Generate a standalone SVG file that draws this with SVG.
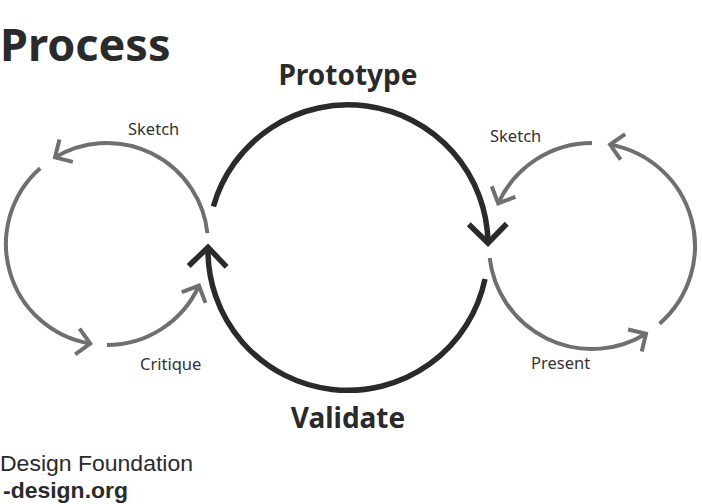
<svg xmlns="http://www.w3.org/2000/svg" width="702" height="504" viewBox="0 0 702 504">
<defs>
<style>
.big{fill:none;stroke:#2a2a2a;stroke-width:5.5}
.small{fill:none;stroke:#6f6f6f;stroke-width:4}
.t{font-family:"Noto Sans","Open Sans","DejaVu Sans",sans-serif;fill:#2a2a2a}
.f{font-family:"Liberation Sans",Arial,sans-serif;fill:#2a2a2a}
.lab{font-size:16.5px;fill:#333}
.head{font-size:28px;font-weight:bold}
</style>
<marker id="ab" markerUnits="userSpaceOnUse" markerWidth="60" markerHeight="60" refX="0" refY="0" orient="auto" overflow="visible" viewBox="-30 -30 60 60">
<path d="M -19 -19 L 0 0 L -19 19" fill="none" stroke="#2a2a2a" stroke-width="5.5"/>
</marker>
<marker id="as" markerUnits="userSpaceOnUse" markerWidth="60" markerHeight="60" refX="0" refY="0" orient="auto" overflow="visible" viewBox="-30 -30 60 60">
<path d="M -13 -13 L 0 0 L -13 13" fill="none" stroke="#6f6f6f" stroke-width="4"/>
</marker>
</defs>
<rect width="702" height="504" fill="#ffffff"/>
<text class="t" x="0" y="61" font-size="45" font-weight="bold">Process</text>
<g id="connectors">
<g id="left-cycle">
<path class="small" d="M 207.4 233.1 A 101 101 0 0 0 55 157.4" marker-end="url(#as)"/>
<path class="small" d="M 40.2 168.2 A 101 101 0 0 0 90.2 343.6" marker-end="url(#as)"/>
<path class="small" d="M 107 345 A 101 101 0 0 0 199 285.7" marker-end="url(#as)"/>
</g>
<g id="main-cycle">
<path class="big" d="M 213.4 206.4 A 140 140 0 0 1 488 243" marker-end="url(#ab)"/>
<path class="big" d="M 485 279 A 140 140 0 0 1 208 247.4" marker-end="url(#ab)"/>
</g>
<g id="right-cycle">
<path class="small" d="M 592 143 A 103 103 0 0 0 498.2 203.4" marker-end="url(#as)"/>
<path class="small" d="M 489.7 258 A 103 103 0 0 0 646 333.7" marker-end="url(#as)"/>
<path class="small" d="M 659.6 323.7 A 103 103 0 0 0 610.1 144.6" marker-end="url(#as)"/>
</g>
</g>
<g id="node-prototype"><text class="t head" x="348" y="85" text-anchor="middle">Prototype</text></g>
<g id="node-validate"><text class="t head" x="348" y="428" text-anchor="middle">Validate</text></g>
<g id="label-sketch-left"><text class="t lab" x="128" y="135">Sketch</text></g>
<g id="label-critique"><text class="t lab" x="140" y="370">Critique</text></g>
<g id="label-sketch-right"><text class="t lab" x="490" y="142">Sketch</text></g>
<g id="label-present"><text class="t lab" x="531" y="369">Present</text></g>
<g id="footer">
<text class="f" x="0" y="471" font-size="21.5" textLength="193" lengthAdjust="spacingAndGlyphs">Design Foundation</text>
<text class="f" x="3" y="498" font-size="21.5" font-weight="bold" textLength="125" lengthAdjust="spacingAndGlyphs">-design.org</text>
</g>
</svg>
